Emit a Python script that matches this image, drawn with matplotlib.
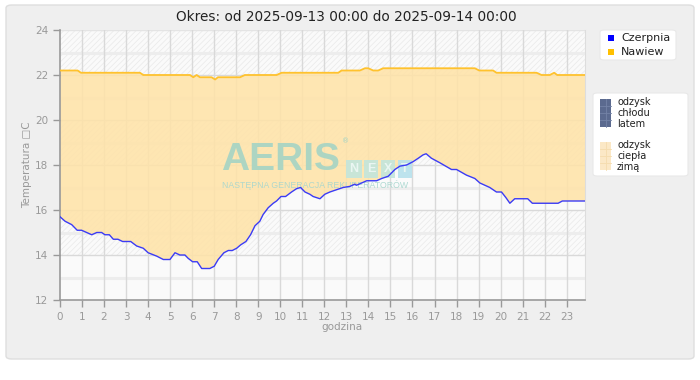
import numpy as np
import matplotlib
matplotlib.use("Agg")
import matplotlib.pyplot as plt
from matplotlib.patches import FancyBboxPatch, Rectangle

plt.rcParams['font.family'] = ['DejaVu Sans']
plt.rcParams['hatch.linewidth'] = 0.5

title = "Okres: od 2025-09-13 00:00 do 2025-09-14 00:00"
xlabel = "godzina"
ylabel = "Temperatura \u25a1C"
series_names = ["Czerpnia", "Nawiew"]

czerpnia_h = [0, 0.23, 0.53, 0.78, 0.98, 1.44, 1.67, 1.89, 2.04, 2.24, 2.42, 2.63, 2.84, 3.21,
              3.48, 3.78, 4.0, 4.39, 4.69, 4.99, 5.22, 5.44, 5.67, 5.82, 6.02, 6.23, 6.43, 6.8,
              7.0, 7.18, 7.44, 7.64, 7.82, 8.02, 8.2, 8.44, 8.65, 8.85, 9.07, 9.22, 9.45, 9.68,
              9.83, 10.03, 10.24, 10.51, 10.74, 10.92, 11.12, 11.34, 11.49, 11.8, 12.02, 12.25,
              12.55, 12.85, 13.16, 13.38, 13.46, 13.69, 13.92, 14.37, 14.6, 14.9, 15.2, 15.43,
              15.73, 16.03, 16.26, 16.48, 16.62, 16.86, 17.24, 17.77, 18.0, 18.45, 18.83, 19.06,
              19.51, 19.81, 20.04, 20.24, 20.42, 20.64, 21.23, 21.44, 22.61, 22.8, 23.83]
czerpnia_v = [15.7, 15.5, 15.35, 15.1, 15.1, 14.9, 15.0, 15.0, 14.9, 14.9, 14.7, 14.7, 14.6, 14.6,
              14.4, 14.3, 14.1, 13.95, 13.8, 13.8, 14.1, 14.0, 14.0, 13.85, 13.7, 13.7, 13.4, 13.4,
              13.5, 13.8, 14.1, 14.2, 14.2, 14.3, 14.45, 14.6, 14.9, 15.3, 15.5, 15.8, 16.1, 16.3,
              16.4, 16.6, 16.6, 16.8, 16.95, 17.0, 16.8, 16.7, 16.6, 16.5, 16.7, 16.8,
              16.9, 17.0, 17.05, 17.15, 17.1, 17.2, 17.3, 17.3, 17.4, 17.5, 17.8, 17.95,
              18.0, 18.15, 18.3, 18.45, 18.5, 18.3, 18.1, 17.8, 17.8, 17.55, 17.4, 17.2,
              17.0, 16.8, 16.8, 16.55, 16.3, 16.5, 16.5, 16.3, 16.3, 16.4, 16.4]

nawiew_h = [0, 0.8, 0.95, 3.63, 3.78, 5.9, 6.05, 6.2, 6.35, 6.88, 7.04, 7.17, 8.17, 8.39, 9.83,
            10.06, 12.63, 12.78, 13.61, 13.84, 13.99, 14.22, 14.44, 14.67, 18.83, 19.03, 19.66,
            19.81, 21.63, 21.86, 22.23, 22.43, 22.57, 23.83]
nawiew_v = [22.2, 22.2, 22.1, 22.1, 22.0, 22.0, 21.9, 22.0, 21.9, 21.9, 21.8, 21.9, 21.9, 22.0, 22.0,
            22.1, 22.1, 22.2, 22.2, 22.3, 22.3, 22.2, 22.2, 22.3, 22.3, 22.2, 22.2,
            22.1, 22.1, 22.0, 22.0, 22.1, 22.0, 22.0]

x_ticks = list(range(0, 24))
y_ticks = [12, 14, 16, 18, 20, 22, 24]
legend2_labels = ["odzysk\nchłodu\nlatem", "odzysk\nciepła\nzimą"]

W, H = 700, 380
fig = plt.figure(figsize=(7, 3.8), dpi=100, facecolor='white')

def fx(x):
    return x / W

def fy(y):
    return 1 - y / H

# background panel
panel = FancyBboxPatch((fx(6), fy(359)), fx(694) - fx(6), fy(5) - fy(359),
                       boxstyle="round,pad=0,rounding_size=0.008", transform=fig.transFigure,
                       facecolor='#efefef', edgecolor='#dedede', lw=1.0, zorder=-5)
fig.patches.append(panel)

ax = fig.add_axes([fx(60), fy(300), fx(585) - fx(60), fy(30) - fy(300)])
ax.set_zorder(1)
ax.set_facecolor('#fafafa')
ax.set_xlim(0, 23.83)
ax.set_ylim(12, 24)

# hatched bands
for lo in (14, 18, 22):
    ax.axhspan(lo, lo + 2, facecolor='none', hatch='//////', edgecolor='#e9e9e9', lw=0, zorder=0.5)
# minor horizontal lines
for yv in (13, 15, 17, 19, 21, 23):
    ax.axhline(yv, color='#ededed', lw=2.2, zorder=0.6)
for yv in y_ticks[1:-1]:
    ax.axhline(yv, color='#d9d9d9', lw=1.0, zorder=0.7)
ax.axhline(24, color='#e4e4e4', lw=1.0, zorder=0.7)
for xv in x_ticks[1:]:
    ax.axvline(xv, color='#d9d9d9', lw=1.0, zorder=0.7)

# fill between nawiew and czerpnia
poly_x = np.r_[nawiew_h, czerpnia_h[::-1]]
poly_y = np.r_[nawiew_v, czerpnia_v[::-1]]
ax.fill(poly_x, poly_y, color='#ffe3a8', alpha=0.87, lw=0, zorder=1)

ax.plot(nawiew_h, nawiew_v, color='#ffc22e', lw=1.3, zorder=3)
ax.plot(czerpnia_h, czerpnia_v, color='#3b3bf5', lw=1.0, zorder=3)

ax.set_xticks(x_ticks)
ax.set_yticks(y_ticks)
ax.tick_params(axis='both', colors='#999999', labelsize=7.5, length=5, width=1, direction='out',
               labelcolor='#999999')
for s in ('left', 'bottom'):
    ax.spines[s].set_color('#999999')
    ax.spines[s].set_linewidth(1.2)
ax.spines['top'].set_visible(False)
ax.spines['right'].set_color('#dddddd')

fig.text(fx(346), fy(17), title, ha='center', va='center', fontsize=9.8, color='#222222')
fig.text(fx(342), fy(327), xlabel, ha='center', va='center', fontsize=7.5, color='#999999')
fig.text(fx(27), fy(165), ylabel, ha='center', va='center', fontsize=7.5, color='#999999',
         rotation=90)

# watermark (between fill and lines)
wm_color = '#9fd3c6'
T = fig.transFigure
ax.text(fx(221), fy(160), "AERIS", fontsize=28, fontweight='bold', color=wm_color,
        family='Liberation Sans', ha='left', va='center', alpha=0.85, zorder=2, transform=T)
ax.text(fx(342), fy(141), "\u00ae", fontsize=5, color=wm_color, ha='left', va='center',
        zorder=2, transform=T)
for i, ch in enumerate("NEXT"):
    cx = 354 + i * 17
    ax.text(fx(cx), fy(169), ch, fontsize=9, fontweight='bold', color='#eaf6f2',
            family='Liberation Sans', ha='center', va='center', zorder=2, transform=T,
            bbox=dict(boxstyle='square,pad=0.25', facecolor='#c3e5dc' if i < 3 else '#b7e1ec',
                      edgecolor='none', alpha=0.9))
ax.text(fx(222), fy(185), "NASTĘPNA GENERACJA REKUPERATORÓW", fontsize=6.3, color='#a6d6ce',
        family='Liberation Sans', ha='left', va='center', zorder=2, alpha=0.9, transform=T)

# legend 1
lg1 = FancyBboxPatch((fx(600), fy(60)), fx(676) - fx(600), fy(30) - fy(60),
                     boxstyle="round,pad=0,rounding_size=0.006", transform=fig.transFigure,
                     facecolor='white', edgecolor='#e8e8e8', lw=0.8, zorder=2)
fig.patches.append(lg1)
for name, col, yy in zip(series_names, ['#0000ff', '#ffc000'], [38, 52]):
    fig.patches.append(Rectangle((fx(608), fy(yy + 3)), fx(6), fx(6) * W / H,
                                 transform=fig.transFigure, facecolor=col, edgecolor='none', zorder=3))
    fig.text(fx(621), fy(yy), name, fontsize=8, color='#222222', ha='left', va='center', zorder=4)

# legend 2
lg2 = FancyBboxPatch((fx(593), fy(176)), fx(688) - fx(593), fy(93) - fy(176),
                     boxstyle="round,pad=0,rounding_size=0.006", transform=fig.transFigure,
                     facecolor='white', edgecolor='#e8e8e8', lw=0.8, zorder=2)
fig.patches.append(lg2)
for lab, col, gc, y0 in zip(legend2_labels, ['#5b6a8f', '#fbe8c6'], ['#7483a6', '#f5dcae'], [99, 142]):
    fig.patches.append(Rectangle((fx(600), fy(y0 + 28)), fx(11), fy(y0) - fy(y0 + 28),
                                 transform=fig.transFigure, facecolor=col, edgecolor='none', zorder=3))
    for k in (1, 2, 3):
        yl = y0 + k * 7
        fig.add_artist(plt.Line2D([fx(600), fx(611)], [fy(yl), fy(yl)], color=gc, lw=0.6, zorder=4))
    fig.add_artist(plt.Line2D([fx(605.5), fx(605.5)], [fy(y0), fy(y0 + 28)], color=gc, lw=0.6, zorder=4))
    fig.text(fx(617), fy(y0 + 14), lab, fontsize=7, color='#222222', ha='left', va='center',
             linespacing=1.1, zorder=4)

fig.savefig("out.png", dpi=100, facecolor='white')
